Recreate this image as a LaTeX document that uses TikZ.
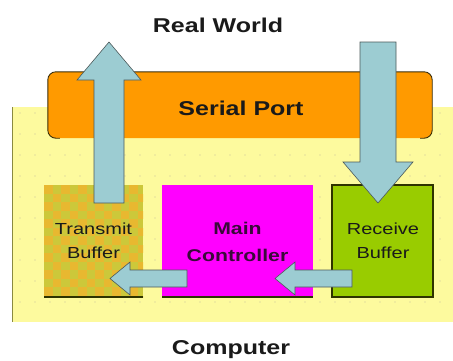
\documentclass[tikz,border=0pt]{standalone}
\usepackage{fontspec}
\setmainfont{Liberation Sans}
\newfontfamily\widefont[FakeStretch=1.25]{Liberation Sans}
\definecolor{bgyellow}{HTML}{FDFA9E}
\definecolor{dotc}{HTML}{E4DF9C}
\definecolor{edgeolive}{HTML}{8A8A40}
\definecolor{portorange}{HTML}{FF9A00}
\definecolor{portedge}{HTML}{3A2A00}
\definecolor{arrowblue}{HTML}{9CCCD2}
\definecolor{arrowedge}{HTML}{4C5A5A}
\definecolor{checkA}{HTML}{CCC83A}
\definecolor{checkB}{HTML}{E8B830}
\definecolor{magentabox}{HTML}{FF00FF}
\definecolor{greenbox}{HTML}{99CC00}
\definecolor{boxedge}{HTML}{2E3300}
\definecolor{txt}{HTML}{1A1A1A}
\definecolor{maintxt}{HTML}{3A0A3A}
\begin{document}
\begin{tikzpicture}[x=1pt,y=-1pt,
  title/.style={font=\widefont\fontsize{20}{24}\selectfont\bfseries, text=txt, inner sep=0pt},
  boxlabel/.style={font=\widefont\fontsize{16}{24}\selectfont, text=txt, align=center, inner sep=0pt},
  mainlabel/.style={font=\widefont\fontsize{17}{27}\selectfont\bfseries, text=maintxt, align=center, inner sep=0pt},
  blockarrow/.style={fill=arrowblue, draw=arrowedge, line width=0.6pt, line join=miter},
  unitbox/.style={minimum height=112pt, inner sep=0pt, outer sep=0pt}]
\useasboundingbox (0,0) rectangle (453,360);
\fill[white] (0,0) rectangle (453,360);
% computer background
\fill[bgyellow] (12,107) rectangle (453,322);
\foreach \yy in {113,134,...,320}
  \foreach \xx in {20,35,...,450}
    \fill[dotc] (\xx,\yy) circle (0.8);
\draw[edgeolive, line width=1pt] (12,107) -- (12,322);
% serial port
\node[fill=portorange, rounded corners=8pt,
      minimum width=384pt, minimum height=66pt, inner sep=0pt] (port) at (240,105) {};
\draw[portedge, line width=0.9pt, rounded corners=8pt]
  ([xshift=12pt]port.south west) -- (port.south west) -- (port.north west)
  -- (port.north east) -- (port.south east) -- ([xshift=-12pt]port.south east);
\node[title, anchor=base] (portlabel) at (241,115) {Serial Port};
% transmit buffer (checkered)
\begin{scope}
  \clip (44,185) rectangle (143,297);
  \fill[checkA] (44,185) rectangle (143,297);
  \foreach \i in {0,2,...,12}
    \foreach \j in {0,2,...,14} {
      \fill[checkB] ({44+\i*8.5},{185+\j*8.5}) rectangle +(8.5,8.5);
      \fill[checkB] ({44+(\i+1)*8.5},{185+(\j+1)*8.5}) rectangle +(8.5,8.5);
    }
\end{scope}
\node[unitbox, minimum width=99pt] (tx) at (93.5,241) {};
\draw[boxedge, line width=1.4pt] (tx.south west) -- (tx.south east);
% main controller
\node[unitbox, minimum width=151pt, fill=magentabox] (main) at (237.5,241) {};
\draw[boxedge, line width=1.4pt] (main.south west) -- (main.south east);
% receive buffer
\node[unitbox, minimum width=101pt, fill=greenbox, draw=boxedge, line width=1.3pt] (rx) at (382.5,241) {};
% block arrows
\draw[blockarrow] (94,203) -- (94,80) -- (77,80) -- (109,42) -- (141,80) -- (124,80) -- (124,203) -- cycle;
\draw[blockarrow] (360,42) -- (396,42) -- (396,162) -- (413,162) -- (378,203) -- (343,162) -- (360,162) -- cycle;
\draw[blockarrow] (187,270) -- (130,270) -- (130,262) -- (110,278.5) -- (130,295) -- (130,287) -- (187,287) -- cycle;
\draw[blockarrow] (352,270) -- (295,270) -- (295,262) -- (275,278.5) -- (295,295) -- (295,287) -- (352,287) -- cycle;
% labels
\node[boxlabel] (txlabel) at (93.5,241) {Transmit\\Buffer};
\node[mainlabel] (mainlabel) at (237.5,242) {Main\\Controller};
\node[boxlabel] (rxlabel) at (383,241) {Receive\\Buffer};
\node[title, anchor=base] (world) at (218,32) {Real World};
\node[title, anchor=base] (computer) at (231,354) {Computer};
\end{tikzpicture}
\end{document}
